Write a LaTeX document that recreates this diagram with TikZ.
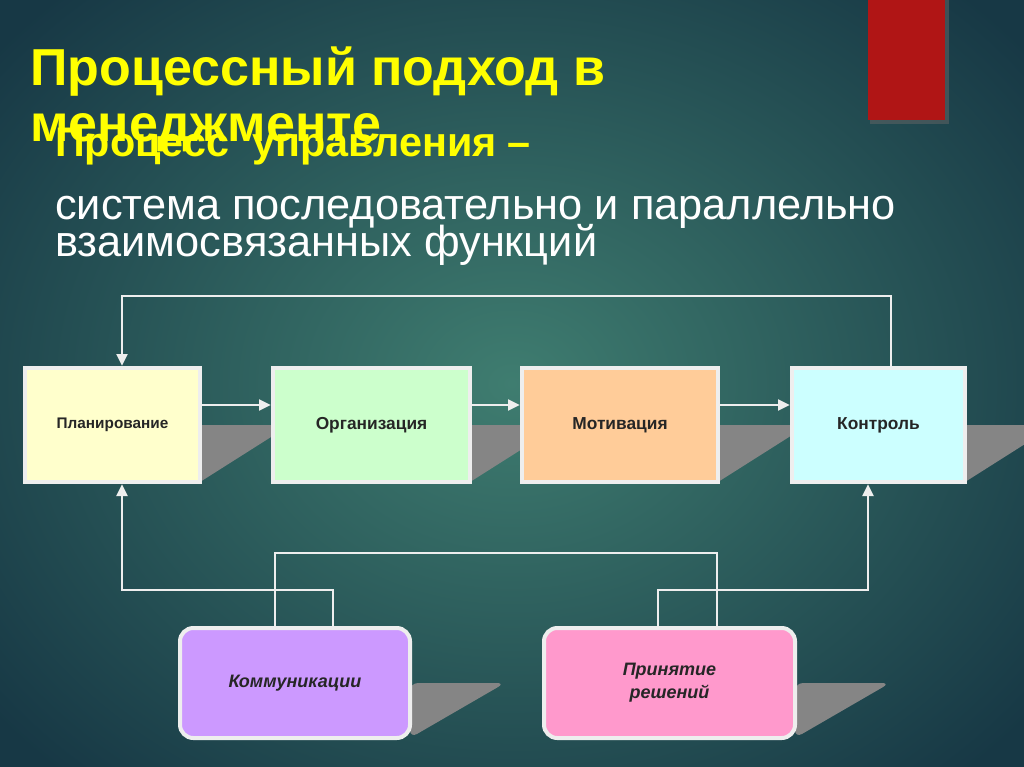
\documentclass[tikz,border=0pt]{standalone}
\usepackage{fontspec}
\setmainfont{Liberation Sans}
\usetikzlibrary{arrows.meta}
\definecolor{bgin}{HTML}{3F7D70}
\definecolor{bgout}{HTML}{173845}
\definecolor{ln}{HTML}{EEEEEE}
\definecolor{shd}{HTML}{858585}
\definecolor{redbar}{HTML}{B01515}
\definecolor{ylw}{HTML}{FFFF00}
\begin{document}
\begin{tikzpicture}[x=0.75pt,y=-0.75pt,
  boxst/.style={draw=ln,line width=3pt,inner sep=0pt,font=\bfseries\fontsize{13}{15}\selectfont,align=center,text=black!85},
  rbox/.style={boxst,rounded corners=10pt,font=\bfseries\itshape\fontsize{13.5}{17}\selectfont},
  arr/.style={draw=ln,line width=2.2pt,-{Triangle[length=9pt,width=8pt]}},
  ln/.style={draw=ln,line width=2.2pt}]
\useasboundingbox (0,0) rectangle (1024,767);
\shade[inner color=bgin,outer color=bgout] (-150,-150) rectangle (1174,917);
% red bar
\fill[black!60,opacity=0.5] (870,0) rectangle (949,124);
\fill[redbar] (868,0) rectangle (945,120);
% titles
\node[anchor=base west,text=ylw,font=\bfseries\fontsize{39}{44}\selectfont,inner sep=0pt] (t1) at (30,85) {Процессный подход в};
\node[anchor=base west,text=ylw,font=\bfseries\fontsize{39}{44}\selectfont,inner sep=0pt] (t2) at (30,141) {менеджменте};
\node[anchor=base west,text=ylw,font=\bfseries\fontsize{31}{35}\selectfont,inner sep=0pt] (t3) at (55,156) {Процесс\ \ управления –};
\node[anchor=base west,text=white,font=\fontsize{32.5}{36}\selectfont,inner sep=0pt] (t4) at (55,219) {система последовательно и параллельно};
\node[anchor=base west,text=white,font=\fontsize{32.5}{36}\selectfont,inner sep=0pt] (t5) at (55,256) {взаимосвязанных функций};
% shadows
\foreach \r in {200,470,718,965}{\fill[shd] (\r,425) -- (\r+90,425) -- (\r,482) -- cycle;}
\foreach \r in {410,795}{\fill[shd,rounded corners=6pt] (\r,683) -- (\r+95,683) -- (\r,738) -- cycle;}
% boxes
\node[boxst,fill={rgb,255:red,255;green,255;blue,204},minimum width=0.75*175pt,minimum height=0.75*114pt,font=\bfseries\fontsize{11.5}{14}\selectfont] (P) at (112.5,425) {Планирование};
\node[boxst,fill={rgb,255:red,204;green,255;blue,204},minimum width=0.75*197pt,minimum height=0.75*114pt] (O) at (371.5,425) {Организация};
\node[boxst,fill={rgb,255:red,255;green,204;blue,153},minimum width=0.75*196pt,minimum height=0.75*114pt] (M) at (620,425) {Мотивация};
\node[boxst,fill={rgb,255:red,204;green,255;blue,255},minimum width=0.75*173pt,minimum height=0.75*114pt] (K) at (878.5,425) {Контроль};
\node[rbox,fill={rgb,255:red,204;green,153;blue,255},minimum width=0.75*230pt,minimum height=0.75*110pt] (C) at (295,683) {Коммуникации};
\node[rbox,fill={rgb,255:red,255;green,153;blue,204},minimum width=0.75*251pt,minimum height=0.75*110pt] (R) at (669.5,683) {Принятие\\решений};
% connectors
\draw[arr] (P.east |- 0,405) -- (O.west |- 0,405);
\draw[arr] (O.east |- 0,405) -- (M.west |- 0,405);
\draw[arr] (M.east |- 0,405) -- (K.west |- 0,405);
\coordinate (a1) at (891,296); \coordinate (a2) at (122,296);
\draw[arr] (K.north -| a1) -- (a1) -- (a2) -- (P.north -| a2);
\coordinate (b1) at (333,590); \coordinate (b2) at (122,590);
\draw[arr] (C.north -| b1) -- (b1) -- (b2) -- (P.south -| b2);
\coordinate (c1) at (658,590); \coordinate (c2) at (868,590);
\draw[arr] (R.north -| c1) -- (c1) -- (c2) -- (K.south -| c2);
\coordinate (d1) at (275,553); \coordinate (d2) at (717,553);
\draw[ln] (C.north -| d1) -- (d1) -- (d2) -- (R.north -| d2);
\end{tikzpicture}
\end{document}
